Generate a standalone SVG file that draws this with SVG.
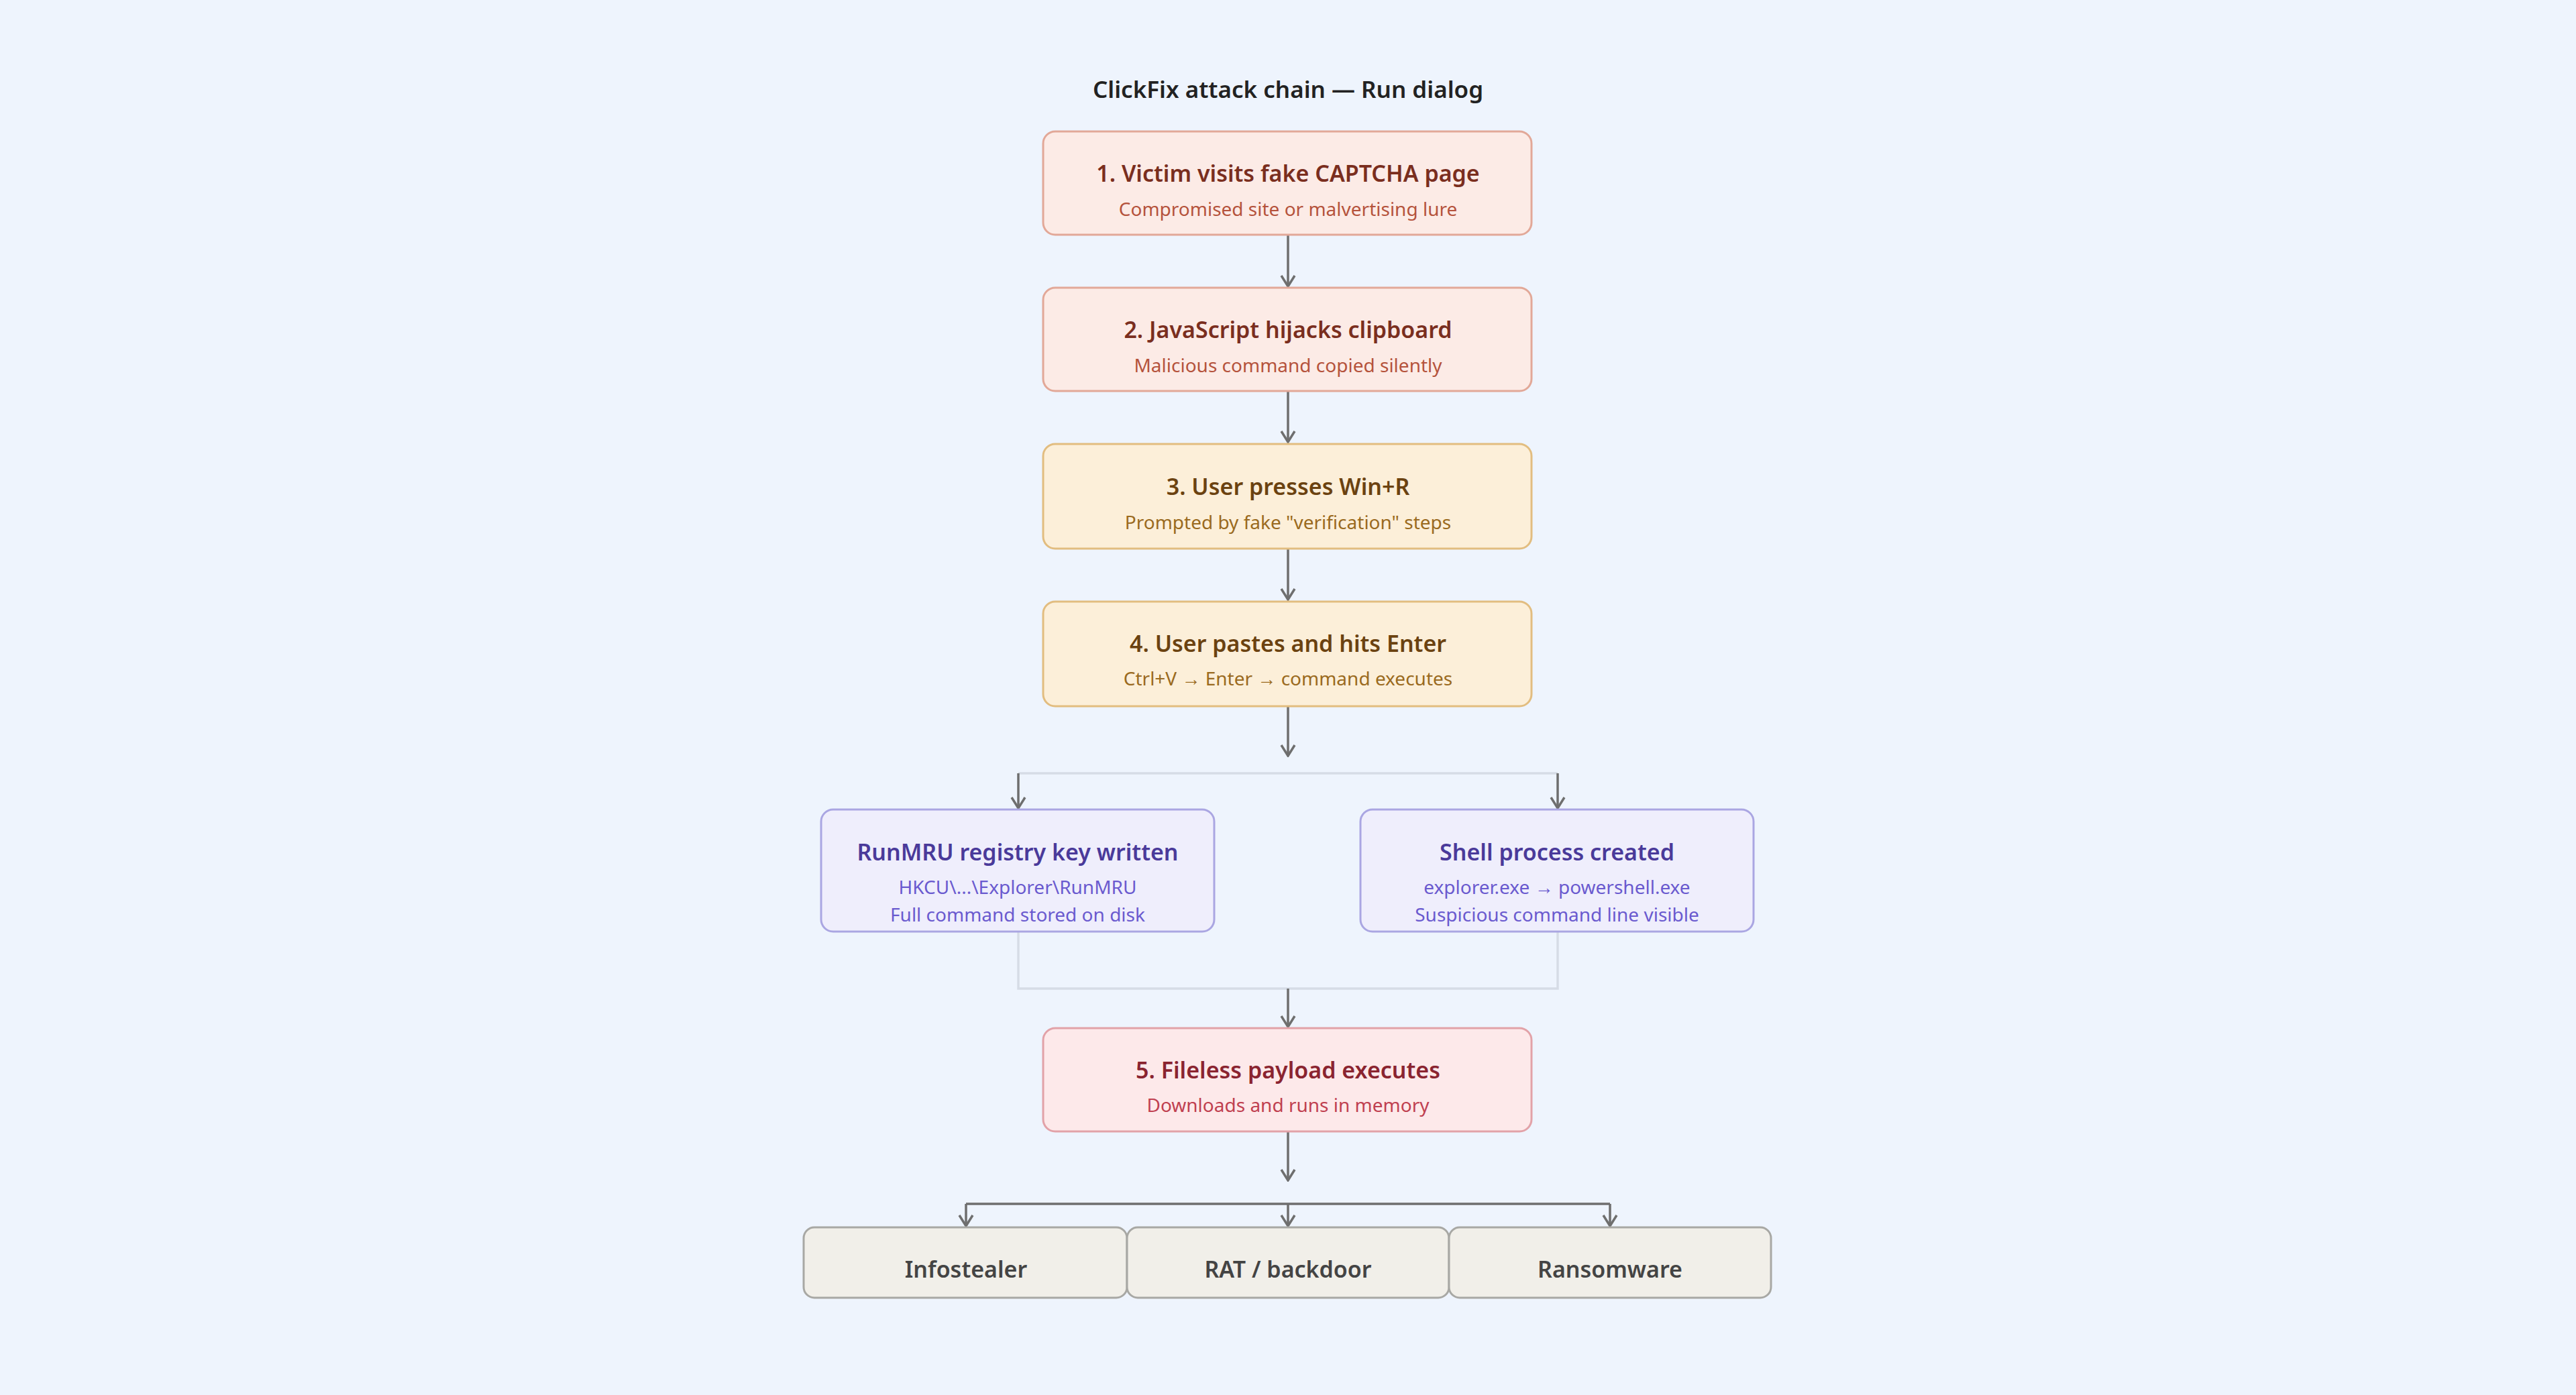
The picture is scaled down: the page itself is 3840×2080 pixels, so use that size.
<svg xmlns="http://www.w3.org/2000/svg" width="3840" height="2080" viewBox="0 0 3840 2080">
<defs>
<marker id="ah" markerWidth="24" markerHeight="24" refX="22" refY="12" orient="auto" markerUnits="userSpaceOnUse" viewBox="0 0 24 24">
<path d="M6,2 L22,12 L6,22" fill="none" stroke="#6e6e6e" stroke-width="3.5"/>
</marker>
</defs>
<style>
text{font-family:"Noto Sans","Open Sans","Liberation Sans",sans-serif;text-anchor:middle}
.t{font-size:34px;font-weight:600}
.s{font-size:28px}
.red rect{fill:#fcebe6;stroke:#e2a898}
.red .t{fill:#7a2e1e}.red .s{fill:#b5533c}
.amb rect{fill:#fcefd9;stroke:#e2bd80}
.amb .t{fill:#6b4210}.amb .s{fill:#9a6a20}
.pur rect{fill:#efeefc;stroke:#aaa6e2}
.pur .t{fill:#4a3a9a}.pur .s{fill:#6a5acf}
.pink rect{fill:#fde9ea;stroke:#e2a2a8}
.pink .t{fill:#8a2430}.pink .s{fill:#c04050}
.gry rect{fill:#f1efe9;stroke:#a8a8a4}
.gry .t{fill:#444444;font-size:34px}
rect{stroke-width:3}
.c{fill:none;stroke:#6e6e6e;stroke-width:3.5}
.l{fill:none;stroke:#d6dce6;stroke-width:3.5}
</style>
<rect width="3840" height="2080" fill="#eef4fd"/>
<text x="1920" y="146" style="font-size:35px;font-weight:600;fill:#222">ClickFix attack chain — Run dialog</text>
<g id="connectors">
<path class="c" d="M1920,350 V427" marker-end="url(#ah)"/>
<path class="c" d="M1920,583 V659" marker-end="url(#ah)"/>
<path class="c" d="M1920,818 V894" marker-end="url(#ah)"/>
<path class="c" d="M1920,1053 V1127" marker-end="url(#ah)"/>
<path class="l" d="M1518,1153 H2322"/>
<path class="c" d="M1518,1153 V1205" marker-end="url(#ah)"/>
<path class="c" d="M2322,1153 V1205" marker-end="url(#ah)"/>
<path class="l" d="M1518,1389 V1474 H2322 V1389"/>
<path class="c" d="M1920,1474 V1531" marker-end="url(#ah)"/>
<path class="c" d="M1920,1687 V1760" marker-end="url(#ah)"/>
<path class="c" d="M1440,1795 H2400"/>
<path class="c" d="M1440,1795 V1828" marker-end="url(#ah)"/>
<path class="c" d="M1920,1795 V1828" marker-end="url(#ah)"/>
<path class="c" d="M2400,1795 V1828" marker-end="url(#ah)"/>
</g>
<g id="n1" class="red"><rect x="1555" y="196" width="728" height="154" rx="18"/>
<text class="t" x="1920" y="271">1. Victim visits fake CAPTCHA page</text>
<text class="s" x="1920" y="322">Compromised site or malvertising lure</text></g>
<g id="n2" class="red"><rect x="1555" y="429" width="728" height="154" rx="18"/>
<text class="t" x="1920" y="504">2. JavaScript hijacks clipboard</text>
<text class="s" x="1920" y="555">Malicious command copied silently</text></g>
<g id="n3" class="amb"><rect x="1555" y="662" width="728" height="156" rx="18"/>
<text class="t" x="1920" y="738">3. User presses Win+R</text>
<text class="s" x="1920" y="789">Prompted by fake "verification" steps</text></g>
<g id="n4" class="amb"><rect x="1555" y="897" width="728" height="156" rx="18"/>
<text class="t" x="1920" y="972">4. User pastes and hits Enter</text>
<text class="s" x="1920" y="1022">Ctrl+V → Enter → command executes</text></g>
<g id="runmru" class="pur"><rect x="1224" y="1207" width="586" height="182" rx="18"/>
<text class="t" x="1517" y="1283">RunMRU registry key written</text>
<text class="s" x="1517" y="1333">HKCU\...\Explorer\RunMRU</text>
<text class="s" x="1517" y="1374">Full command stored on disk</text></g>
<g id="shell" class="pur"><rect x="2028" y="1207" width="586" height="182" rx="18"/>
<text class="t" x="2321" y="1283">Shell process created</text>
<text class="s" x="2321" y="1333">explorer.exe → powershell.exe</text>
<text class="s" x="2321" y="1374">Suspicious command line visible</text></g>
<g id="n5" class="pink"><rect x="1555" y="1533" width="728" height="154" rx="18"/>
<text class="t" x="1920" y="1608">5. Fileless payload executes</text>
<text class="s" x="1920" y="1658">Downloads and runs in memory</text></g>
<g id="info" class="gry"><rect x="1198" y="1830" width="482" height="105" rx="16"/>
<text class="t" x="1440" y="1905">Infostealer</text></g>
<g id="rat" class="gry"><rect x="1680" y="1830" width="480" height="105" rx="16"/>
<text class="t" x="1920" y="1905">RAT / backdoor</text></g>
<g id="ransom" class="gry"><rect x="2160" y="1830" width="480" height="105" rx="16"/>
<text class="t" x="2400" y="1905">Ransomware</text></g>
</svg>
